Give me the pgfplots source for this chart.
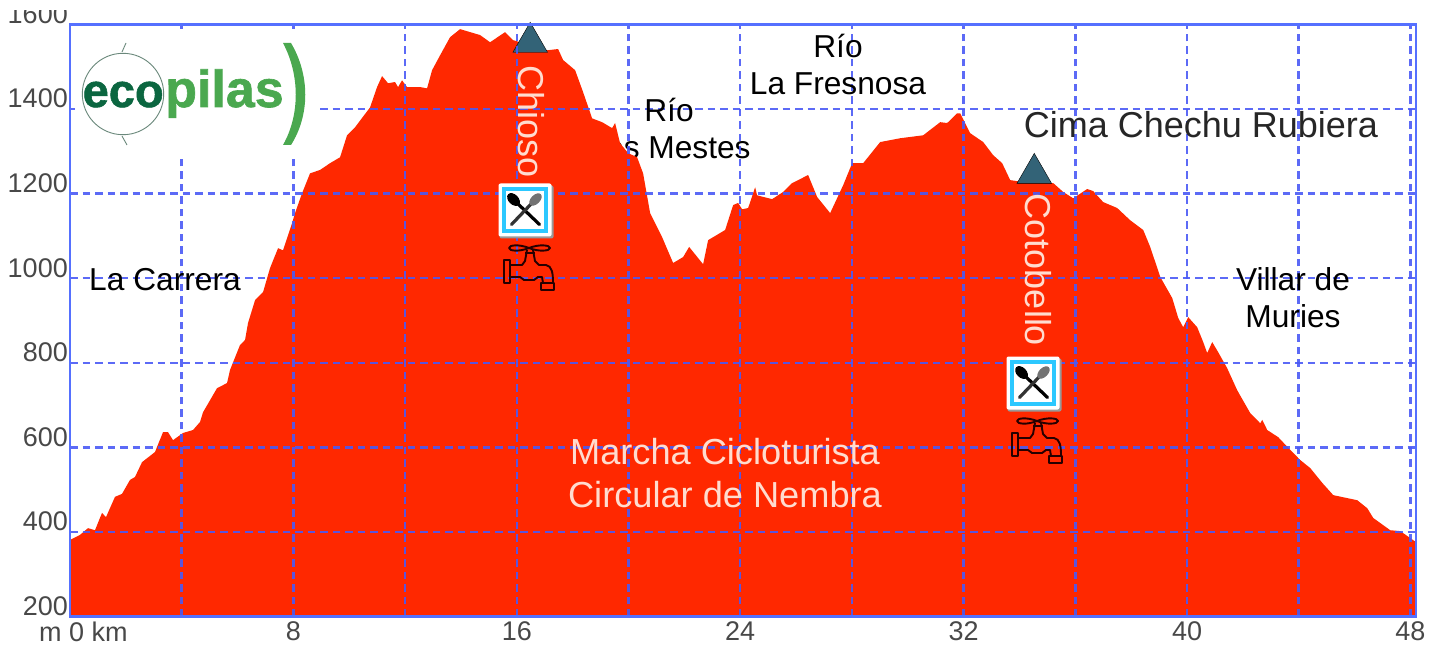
\documentclass[border=0pt]{standalone}
\usepackage{fontspec}
\setmainfont{Liberation Sans}
\newfontfamily\logofont[BoldFeatures={FakeBold=1.2}]{Liberation Sans}
\usepackage{pgfplots}
\pgfplotsset{compat=1.18}
\definecolor{profile}{HTML}{FF2800}
\definecolor{frameblue}{HTML}{5570FF}
\definecolor{gridblue}{HTML}{4A5AF5}
\definecolor{ticktext}{HTML}{484848}
\definecolor{peak}{HTML}{336377}
\definecolor{ecodark}{HTML}{0B6640}
\definecolor{ecolight}{HTML}{4AA84F}
\definecolor{signcyan}{HTML}{2CC8FF}
\definecolor{pale}{HTML}{FFDCCF}
\newcommand\fs[1]{\fontsize{#1}{#1}\selectfont}
\newcommand\resticon[2]{%
  \begin{scope}[shift={(#1,#2)}]
    \fill[black!40,rounded corners=2pt] (-26,-25) rectangle (28,28);
    \fill[white,rounded corners=2pt] (-27,-27) rectangle (26,26);
    \draw[signcyan,line width=4pt] (-21.5,-21.5) rectangle (20.5,20.5);
    \draw[black,line width=3.2pt,line cap=round] (-9,-8) -- (14,14);
    \fill[black,rotate around={-45:(-12,-11)}] (-12,-11) ellipse (7.5 and 5);
    \draw[black!80,line width=3.2pt,line cap=round] (7,-8) -- (-14,14);
    \fill[black!55,rotate around={45:(10,-11)}] (10,-11) ellipse (7.5 and 4.5);
  \end{scope}}
\newcommand\faucet[2]{%
  \begin{scope}[shift={(#1,#2)},line width=1.9pt,draw=black!85!red,line join=round]
    \draw (25,3) .. controls (15,-1) and (5,0) .. (5,3) .. controls (5,6) and (15,7) .. (25,3)
          .. controls (35,7) and (46,6) .. (46,3) .. controls (46,0) and (35,-1) .. (25,3);
    \draw (21,8) -- (31,8);
    \draw (23,5) -- (21,16) -- (18,20) -- (6,20);
    \draw (29,5) -- (31,16) -- (35,20) -- (42,20) .. controls (48,21) and (49,28) .. (49,38);
    \draw (0,15) rectangle (6,38);
    \draw (6,32) -- (16,32) -- (20,35) -- (30,35) -- (34,32) -- (38,32) -- (39,38);
    \draw (37,38) rectangle (50,45);
  \end{scope}}
\begin{document}
\begin{tikzpicture}
\begin{axis}[
  at={(70pt,29.5pt)}, anchor=south west,
  scale only axis, width=1346pt, height=592pt,
  xmin=0, xmax=48.2, ymin=200, ymax=1600,
  set layers, axis on top, clip=false,
  xtick={0,4,...,48},
  xticklabels={\hspace*{27pt}m 0 km,,8,,16,,24,,32,,40,,48},
  ytick={200,400,...,1600},
  /pgf/number format/1000 sep={},
  /pgf/number format/assume math mode=true,
  tick style={draw=none}, major tick length=0pt,
  grid=major,
  major grid style={draw=gridblue,opacity=0.9,line width=2.5pt,dash pattern=on 7.5pt off 5pt},
  axis line style={draw=frameblue,line width=2.4pt},
  yticklabel style={font=\fs{27},text=ticktext,inner sep=0pt,xshift=-2pt,yshift=10.5pt},
  xticklabel style={font=\fs{27},text=ticktext,inner sep=0pt,yshift=-5pt},
]
\node[anchor=base,inner sep=0pt,font=\fs{31.7},text=black] at (axis cs:21.47,1284) {Los Mestes};
\addplot[fill=profile,draw=none] table {
0.00 200
0.00 381
0.358 393
0.645 409
0.895 404
1.146 445
1.289 435
1.612 483
1.862 490
2.149 523
2.328 530
2.579 565
3.044 589
3.331 636
3.510 636
3.689 617
4.047 634
4.405 641
4.656 660
4.764 683
5.265 740
5.623 752
5.731 783
6.089 842
6.268 854
6.375 894
6.626 948
6.913 967
7.163 1024
7.450 1071
7.629 1066
7.951 1130
8.059 1154
8.310 1201
8.596 1248
8.954 1256
9.312 1272
9.671 1286
9.921 1338
10.208 1357
10.745 1404
10.996 1452
11.175 1478
11.390 1461
11.640 1464
11.748 1452
11.891 1468
12.070 1452
12.536 1452
12.787 1449
12.966 1492
13.252 1527
13.610 1570
13.969 1589
14.327 1582
14.685 1575
15.043 1558
15.580 1582
15.867 1563
16.476 1551
17.085 1539
17.479 1542
17.658 1516
18.088 1492
18.374 1440
18.697 1378
19.055 1369
19.413 1355
19.520 1367
19.699 1319
19.986 1296
20.308 1286
20.523 1248
20.774 1154
21.204 1097
21.598 1036
21.956 1050
22.171 1074
22.672 1033
22.851 1090
23.460 1114
23.747 1173
23.926 1178
24.069 1163
24.284 1166
24.535 1215
24.606 1196
25.143 1187
25.537 1204
25.860 1225
26.433 1244
26.755 1192
27.221 1154
27.687 1220
28.009 1272
28.403 1272
29.012 1322
29.728 1331
30.552 1338
31.161 1369
31.412 1367
31.770 1390
31.877 1390
32.235 1343
32.701 1322
33.059 1291
33.381 1272
33.668 1232
34.384 1225
35.208 1225
35.566 1204
35.924 1189
36.426 1211
36.641 1206
36.999 1180
37.500 1166
37.966 1137
38.432 1114
38.682 1074
39.041 1003
39.471 953
39.685 906
39.864 884
40.043 908
40.365 884
40.580 849
40.723 823
40.902 849
41.117 825
41.440 787
41.798 735
42.264 681
42.622 657
42.694 665
42.873 641
43.267 624
43.697 594
44.055 570
44.413 551
44.843 516
45.237 487
46.096 475
46.455 456
46.669 433
47.278 404
47.636 402
48.200 376
48.200 200
};
\addplot[on layer=axis foreground,only marks,mark=triangle*,mark size=20pt,mark options={fill=peak,draw=none}] coordinates {(16.48,1558) (34.53,1248)};
\end{axis}
\begin{pgfonlayer}{axis foreground}
\begin{scope}[x=1pt,y=-1pt,yshift=646pt]
  % clipped top of the 1600 label
  \fill[white] (0,0) rectangle (68,10);
  % logo
  \fill[white] (75,33) rectangle (316,157);
  \draw[black!45!ecodark!60,line width=0.9pt] (123,94) circle (40.7);
  \draw[black!45!ecodark!60,line width=0.9pt] (122,52) -- (126,43) (122,136) -- (127,145);
  \node[anchor=base west,inner sep=0pt,font=\logofont\fs{47}\bfseries,text=ecodark] at (82.5,107) {eco};
  \node[anchor=base west,inner sep=0pt,font=\logofont\fs{52}\bfseries,text=ecolight] at (165,107) {pilas};
  \fill[ecolight] (283,43) -- (291,43) .. controls (310,75) and (310,115) .. (291,145) -- (283,145) .. controls (300,115) and (300,75) .. (283,43) -- cycle;
  % labels
  \begin{scope}[every node/.style={anchor=base,inner sep=0pt,font=\fs{31.7},text=black}]
    \node at (165,291) {La Carrera};
    \node at (838,58) {Río};
    \node at (838,95) {La Fresnosa};
    \node at (669,122) {Río};
    \node at (1293,291) {Villar de};
    \node at (1293,327) {Muries};
  \end{scope}
  \node[anchor=base,inner sep=0pt,font=\fs{36},text=black!85] at (1201,138) {Cima Chechu Rubiera};
  \node[anchor=base,inner sep=0pt,font=\fs{36.2},text=pale] at (725,464) {Marcha Cicloturista};
  \node[anchor=base,inner sep=0pt,font=\fs{36.2},text=pale] at (725,507) {Circular de Nembra};
  \node[anchor=base,rotate=-90,inner sep=0pt,font=\fs{36},text=pale] at (518,122) {Chioso};
  \node[anchor=base,rotate=-90,inner sep=0pt,font=\fs{36},text=pale] at (1025,270) {Cotobello};
  % icons
  \resticon{525.5}{210.5}
  \resticon{1033.5}{383.5}
  \faucet{504}{245}
  \faucet{1012}{418}
\end{scope}
\end{pgfonlayer}
\pgfresetboundingbox
\path[use as bounding box] (0pt,0pt) rectangle (1439pt,646pt);
\end{tikzpicture}
\end{document}
